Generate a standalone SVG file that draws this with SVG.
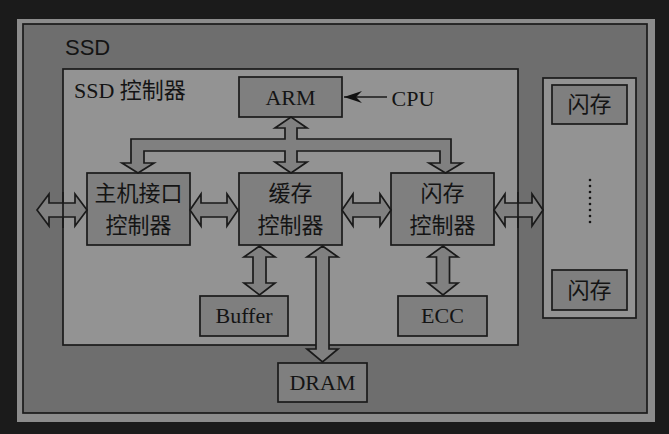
<svg xmlns="http://www.w3.org/2000/svg" width="669" height="434" viewBox="0 0 669 434">
<style>
.box{fill:#7f7f7f;stroke:#1a1a1a;stroke-width:1.7}
.panel{fill:#939393;stroke:#1a1a1a;stroke-width:1.7}
.arrow{fill:#808080;stroke:#1a1a1a;stroke-width:1.7;stroke-linejoin:miter}
.line{fill:none;stroke:#1a1a1a;stroke-width:1.7}
.lat{font-family:"Liberation Serif","Times New Roman",serif;font-size:22px;fill:#141414;text-anchor:middle}
.cjk{font-family:"Noto Sans CJK SC","Noto Sans CJK JP",sans-serif;font-size:22px;fill:#141414;text-anchor:middle}
.mix{font-family:"Liberation Serif","Noto Sans CJK SC",serif;font-size:22px;fill:#141414}
</style>
<defs>
<marker id="barb" viewBox="0 0 18 12" refX="18" refY="6" markerWidth="18" markerHeight="12" markerUnits="userSpaceOnUse" orient="auto">
<path d="M18,6 L0,0 L6,6 L0,12 Z" fill="#111"/>
</marker>
</defs>
<rect width="669" height="434" fill="#1b1b1b"/>
<g id="frame">
<rect x="17" y="19" width="638" height="403" fill="#8c8c8c"/>
</g>
<g id="ssd">
<rect x="23" y="24" width="624" height="389" fill="#6e6e6e" stroke="#1a1a1a" stroke-width="1.7"/>
<text x="65" y="55" font-family="Liberation Sans,Arial,sans-serif" font-size="22" fill="#141414">SSD</text>
</g>
<g id="ssd-controller">
<rect class="panel" x="63" y="69" width="455" height="276"/>
<text class="mix" x="74" y="98">SSD 控制器</text>
</g>
<g id="flash-array">
<rect class="panel" x="543" y="78" width="93" height="240"/>
<g fill="#141414">
<circle cx="590" cy="180" r="1.3"/><circle cx="590" cy="186" r="1.3"/><circle cx="590" cy="192" r="1.3"/><circle cx="590" cy="198" r="1.3"/><circle cx="590" cy="204" r="1.3"/><circle cx="590" cy="210" r="1.3"/><circle cx="590" cy="216" r="1.3"/><circle cx="590" cy="222" r="1.3"/>
</g>
</g>
<g id="flash-1">
<rect class="box" x="552" y="85" width="75" height="39"/>
<text class="cjk" x="589.5" y="112">闪存</text>
</g>
<g id="flash-n">
<rect class="box" x="552" y="270" width="75" height="40"/>
<text class="cjk" x="589.5" y="298">闪存</text>
</g>
<g id="arm">
<rect class="box" x="239" y="77" width="103" height="40"/>
<text class="lat" x="290.5" y="105">ARM</text>
</g>
<g id="cpu">
<text class="lat" x="413" y="106">CPU</text>
</g>
<g id="host-ctrl">
<rect class="box" x="87" y="173" width="103" height="72"/>
<text class="cjk" x="138.5" y="201">主机接口</text>
<text class="cjk" x="138.5" y="233">控制器</text>
</g>
<g id="cache-ctrl">
<rect class="box" x="239" y="173" width="103" height="72"/>
<text class="cjk" x="290.5" y="201">缓存</text>
<text class="cjk" x="290.5" y="233">控制器</text>
</g>
<g id="flash-ctrl">
<rect class="box" x="391" y="173" width="103" height="72"/>
<text class="cjk" x="442.5" y="201">闪存</text>
<text class="cjk" x="442.5" y="233">控制器</text>
</g>
<g id="buffer">
<rect class="box" x="200" y="296" width="88" height="40"/>
<text class="lat" x="244" y="323">Buffer</text>
</g>
<g id="ecc">
<rect class="box" x="398" y="296" width="89" height="40"/>
<text class="lat" x="442.5" y="323">ECC</text>
</g>
<g id="dram">
<rect class="box" x="278" y="363" width="89" height="39"/>
<text class="lat" x="322.5" y="390">DRAM</text>
</g>
<g id="connectors">
<line class="line" x1="387" y1="97" x2="344" y2="97" marker-end="url(#barb)"/>
<path class="arrow" d="M131,139 L285,139 L285,128 L275,128 L291,117 L307,128 L297,128 L297,139 L451,139 L451,163 L462,163 L445.5,173 L429,163 L440,163 L440,151 L297,151 L297,162 L307,162 L291,173 L275,162 L285,162 L285,151 L144,151 L144,163 L154,163 L138,173 L122,163 L131,163 Z"/>
<path class="arrow" d="M37,210 L49,194 L49,203 L75,203 L75,194 L87,210 L75,226 L75,217 L49,217 L49,226 Z"/>
<path class="arrow" d="M190,210 L201,194 L201,203 L227,203 L227,194 L238,210 L227,226 L227,217 L201,217 L201,226 Z"/>
<path class="arrow" d="M342,210 L353,194 L353,203 L380,203 L380,194 L391,210 L380,226 L380,217 L353,217 L353,226 Z"/>
<path class="arrow" d="M494,210 L505,194 L505,203 L532,203 L532,194 L543,210 L532,226 L532,217 L505,217 L505,226 Z"/>
<path class="line" d="M63,192 V228 M518,192 V228"/>
<path class="arrow" d="M259.5,246 L275,257 L266,257 L266,283 L275,283 L259.5,295 L244,283 L253,283 L253,257 L244,257 Z"/>
<path class="arrow" d="M443,246 L458,257 L449.5,257 L449.5,283 L458,283 L443,295 L428,283 L436.5,283 L436.5,257 L428,257 Z"/>
<path class="arrow" d="M322.5,246 L338,257 L329,257 L329,349 L338,349 L322.5,362 L307,349 L316,349 L316,257 L307,257 Z"/>
</g>
</svg>
